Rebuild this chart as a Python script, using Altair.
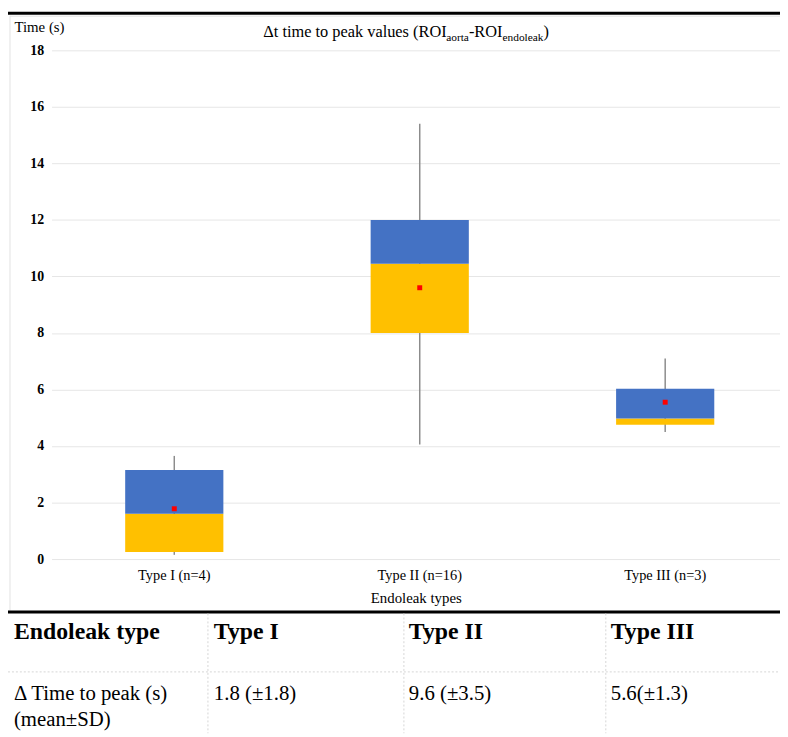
import altair as alt
import pandas as pd

# ---- data ----
types = ["Type I (n=4)", "Type II (n=16)", "Type III (n=3)"]
whisker_low = [0.15, 4.05, 4.5]
q1 = [0.25, 8.0, 4.75]
median = [1.6, 10.45, 4.97]
q3 = [3.15, 12.0, 6.03]
whisker_high = [3.65, 15.4, 7.1]
means = [1.78, 9.6, 5.55]
y_ticks = [0, 2, 4, 6, 8, 10, 12, 14, 16, 18]

table_header = ["Endoleak type", "Type I", "Type II", "Type III"]
table_row_label = ["\u0394 Time to peak (s)", "(mean\u00b1SD)"]
table_values = ["1.8 (\u00b11.8)", "9.6 (\u00b13.5)", "5.6(\u00b11.3)"]

title_pieces = ["\u0394t time to peak values (ROI", "aorta", "-ROI", "endoleak", ")"]
title_is_sub = [False, True, False, True, False]

FONT = "Liberation Serif"
BLUE = "#4472C4"
YELLOW = "#FFC000"

df = pd.DataFrame({
    "type": types, "wlow": whisker_low, "q1": q1, "median": median,
    "q3": q3, "whigh": whisker_high, "mean": means,
})

W, H = 736, 514
# band step of 248 px; the original plot area is cropped on the right
xscale = alt.Scale(type="band", paddingInner=0.6, paddingOuter=0.283871,
                   align=0.528409, round=False)
X = alt.X("type:N", sort=types, scale=xscale,
          axis=alt.Axis(title="Endoleak types", labelAngle=0, domain=False, ticks=False,
                        labelFont=FONT, labelFontSize=14.5, labelColor="black",
                        labelPadding=10, titleFont=FONT, titleFontSize=15,
                        titleFontWeight="normal", titleColor="black", titlePadding=8,
                        grid=False))
Y = alt.Y("q1:Q", scale=alt.Scale(domain=[0, 18], nice=False),
          axis=alt.Axis(values=y_ticks, title="Time (s)", titleAngle=0, titleAlign="left",
                        titleBaseline="alphabetic", titleX=-38, titleY=-19,
                        titleFont=FONT, titleFontSize=15, titleFontWeight="normal",
                        titleColor="black", domain=False, ticks=False, labelFont=FONT,
                        labelFontSize=14, labelFontWeight="bold", labelColor="black",
                        labelPadding=8, gridColor="#e6e6e6", gridWidth=1))

base = alt.Chart(df)
whisk = base.mark_rule(color="#8c8c8c", strokeWidth=1.5).encode(
    x=X, y=alt.Y("wlow:Q", scale=alt.Scale(domain=[0, 18], nice=False)), y2="whigh:Q")
low_box = base.mark_bar(color=YELLOW).encode(x=X, y=Y, y2="median:Q")
up_box = base.mark_bar(color=BLUE).encode(
    x=X, y=alt.Y("median:Q"), y2="q3:Q")
mean_pt = base.mark_square(size=25, color="#ff0000", opacity=1).encode(
    x=X, y=alt.Y("mean:Q"))

layers = [whisk, low_box, up_box, mean_pt]

def txt(s, px, py, size, weight="normal", align="left"):
    return alt.Chart(pd.DataFrame({"t": [s]})).mark_text(
        font=FONT, fontSize=size, fontWeight=weight, align=align,
        baseline="alphabetic", color="black").encode(
        x=alt.value(px), y=alt.value(py), text="t:N")

# title pieces (Times metrics used to chain the pieces)
em = {"main": 16.5, "sub": 11.5}
widths_em = [11.194, 1.999, 2.055, 3.61, 0.333]
cx = 214.0
for piece, sub, wem in zip(title_pieces, title_is_sub, widths_em):
    size = em["sub"] if sub else em["main"]
    layers.append(txt(piece, cx, -9.5 if sub else -13.5, size))
    cx += wem * size

def rule(x1, x2, y1, y2, color, width, dash=None):
    kw = dict(color=color, strokeWidth=width)
    if dash:
        kw["strokeDash"] = dash
    return alt.Chart(pd.DataFrame({"a": [0]})).mark_rule(**kw).encode(
        x=alt.value(x1), x2=alt.value(x2), y=alt.value(y1), y2=alt.value(y2))

# frame / separators
layers.append(rule(-44, W, -37.5, -37.5, "black", 3))
layers.append(rule(-42, W, -34.5, -34.5, "#e2e2e2", 1))
layers.append(rule(-42, -42, -35, 566, "#e2e2e2", 1))
layers.append(rule(-44, W, 567.5, 567.5, "black", 3))
layers.append(rule(-44, W, 628, 628, "#d6d6d6", 1, [2, 2]))
for vx in [158, 356, 560]:
    layers.append(rule(vx, vx, 569, 690, "#d6d6d6", 1, [2, 2]))

# table
col_x = [-38, 164, 361, 565]
for s, px in zip(table_header, col_x):
    layers.append(txt(s, px, 595, 24, "bold"))
layers.append(txt(table_row_label[0], col_x[0], 656, 21))
layers.append(txt(table_row_label[1], col_x[0], 683, 21))
for s, px in zip(table_values, col_x[1:]):
    layers.append(txt(s, px, 656, 21))

chart = alt.layer(*layers).properties(
    width=W, height=H,
    autosize=alt.AutoSizeParams(type="none"),
    padding={"left": 44, "top": 39, "right": 0, "bottom": 176},
    background="white",
).configure_view(stroke=None)

chart.save("out.html", embed_options={"renderer": "svg", "actions": False})
